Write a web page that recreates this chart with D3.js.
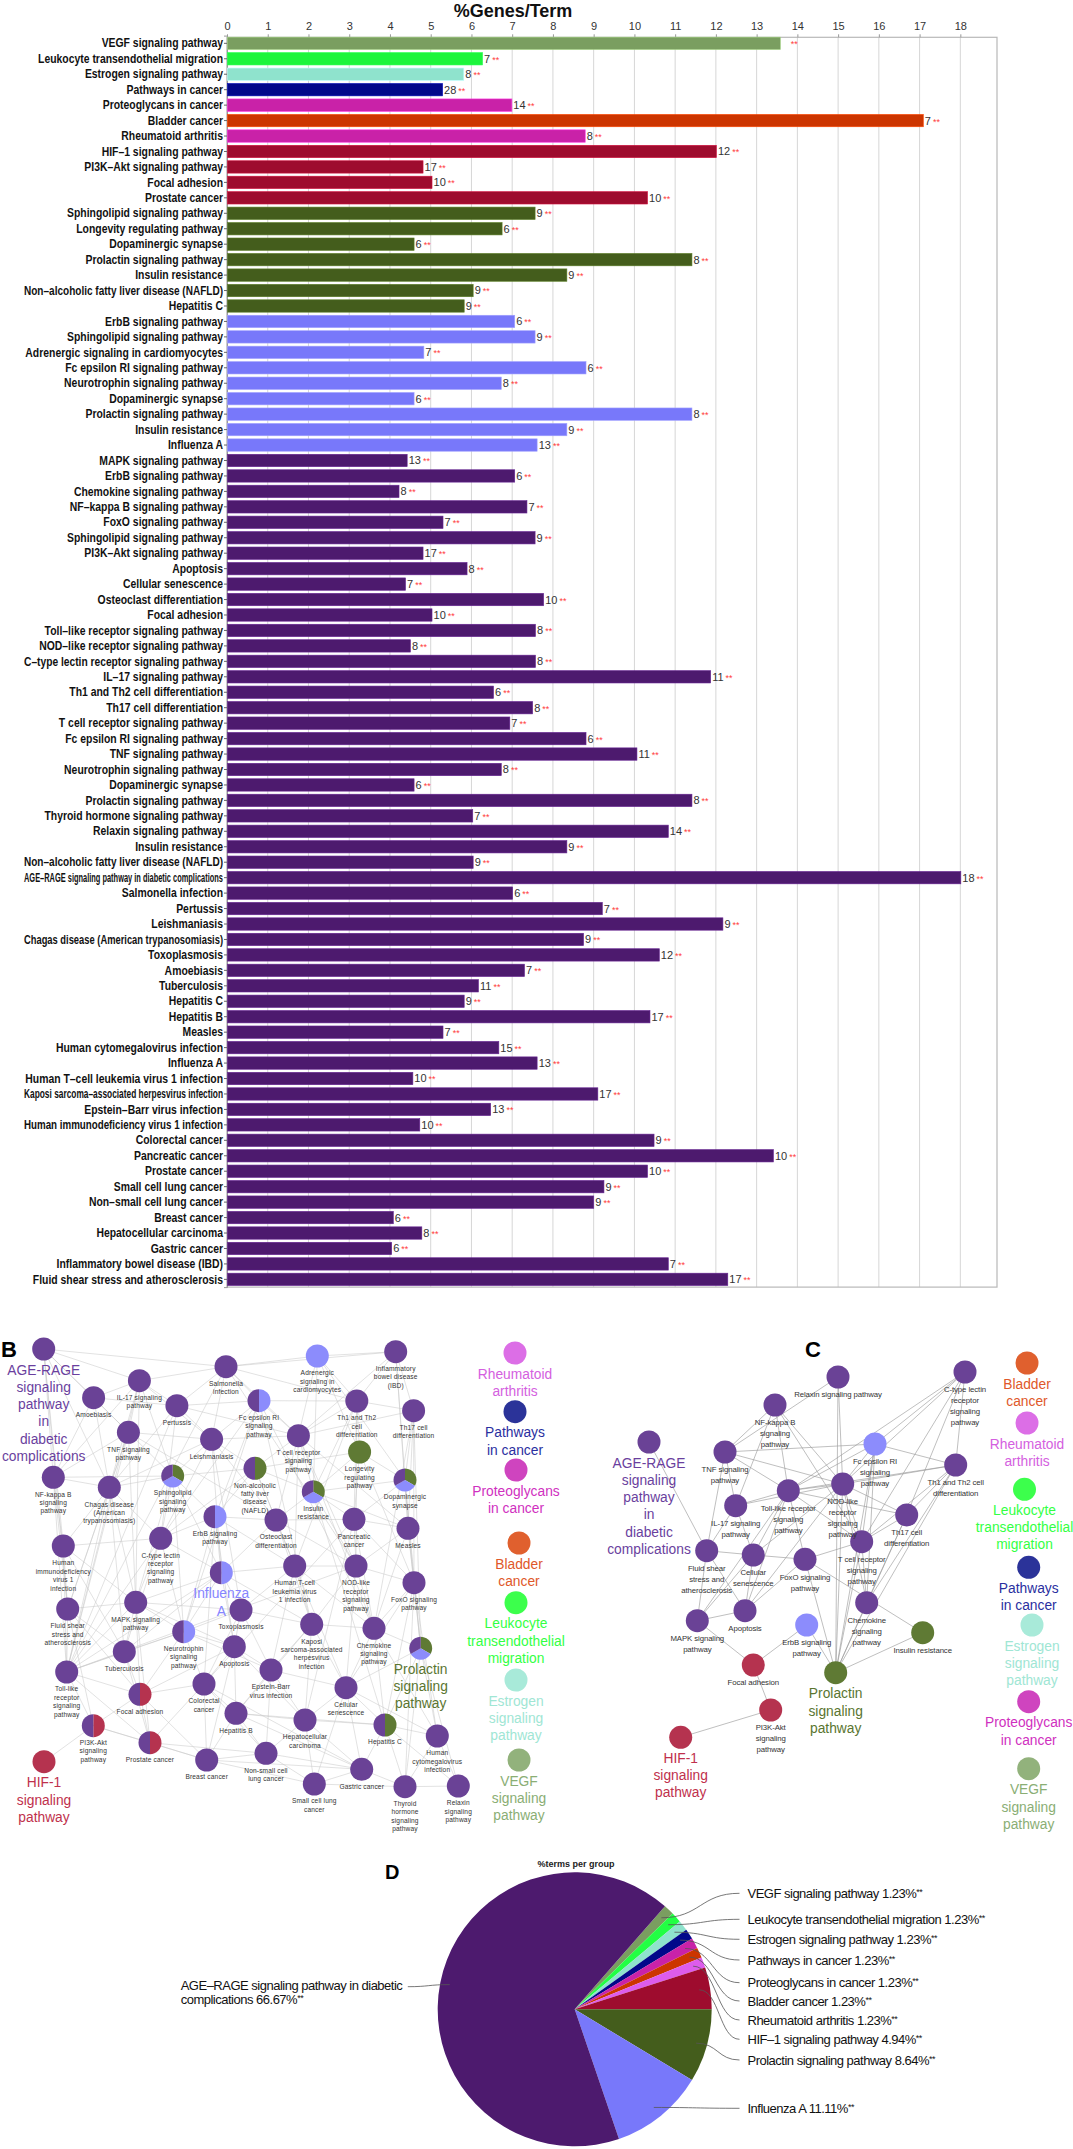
<!DOCTYPE html>
<html>
<head>
<meta charset="utf-8">
<script src="https://cdn.jsdelivr.net/npm/d3@7"></script>
<style>
  body { margin: 0; background: #fff; }
  svg { display: block; }
  text { font-family: "Liberation Sans", Arial, Helvetica, sans-serif; }
</style>
</head>
<body>
<div id="chart"></div>
<script>
// ---------- data: bar chart A ----------
const terms = [
  "VEGF signaling pathway","Leukocyte transendothelial migration","Estrogen signaling pathway","Pathways in cancer",
  "Proteoglycans in cancer","Bladder cancer","Rheumatoid arthritis","HIF-1 signaling pathway","PI3K-Akt signaling pathway",
  "Focal adhesion","Prostate cancer","Sphingolipid signaling pathway","Longevity regulating pathway","Dopaminergic synapse",
  "Prolactin signaling pathway","Insulin resistance","Non-alcoholic fatty liver disease (NAFLD)","Hepatitis C",
  "ErbB signaling pathway","Sphingolipid signaling pathway","Adrenergic signaling in cardiomyocytes","Fc epsilon RI signaling pathway",
  "Neurotrophin signaling pathway","Dopaminergic synapse","Prolactin signaling pathway","Insulin resistance","Influenza A",
  "MAPK signaling pathway","ErbB signaling pathway","Chemokine signaling pathway","NF-kappa B signaling pathway",
  "FoxO signaling pathway","Sphingolipid signaling pathway","PI3K-Akt signaling pathway","Apoptosis","Cellular senescence",
  "Osteoclast differentiation","Focal adhesion","Toll-like receptor signaling pathway","NOD-like receptor signaling pathway",
  "C-type lectin receptor signaling pathway","IL-17 signaling pathway","Th1 and Th2 cell differentiation",
  "Th17 cell differentiation","T cell receptor signaling pathway","Fc epsilon RI signaling pathway","TNF signaling pathway",
  "Neurotrophin signaling pathway","Dopaminergic synapse","Prolactin signaling pathway","Thyroid hormone signaling pathway",
  "Relaxin signaling pathway","Insulin resistance","Non-alcoholic fatty liver disease (NAFLD)",
  "AGE-RAGE signaling pathway in diabetic complications","Salmonella infection","Pertussis","Leishmaniasis",
  "Chagas disease (American trypanosomiasis)","Toxoplasmosis","Amoebiasis","Tuberculosis","Hepatitis C","Hepatitis B",
  "Measles","Human cytomegalovirus infection","Influenza A","Human T-cell leukemia virus 1 infection",
  "Kaposi sarcoma-associated herpesvirus infection","Epstein-Barr virus infection","Human immunodeficiency virus 1 infection",
  "Colorectal cancer","Pancreatic cancer","Prostate cancer","Small cell lung cancer","Non-small cell lung cancer",
  "Breast cancer","Hepatocellular carcinoma","Gastric cancer","Inflammatory bowel disease (IBD)",
  "Fluid shear stress and atherosclerosis"
];
const percents = [
  13.57, 6.26, 5.80, 5.28, 6.98, 17.08, 8.78, 12.00, 4.80, 5.02, 10.31,
  7.55, 6.74, 4.58, 11.40, 8.33, 6.03, 5.81,
  7.05, 7.55, 4.82, 8.80, 6.72, 4.58, 11.40, 8.33, 7.60,
  4.41, 7.05, 4.21, 7.35, 5.29, 7.55, 4.80, 5.88, 4.37, 7.76, 5.02, 7.56, 4.49, 7.56, 11.86, 6.53, 7.49, 6.93,
  8.80, 10.05, 6.72, 4.58, 11.40, 6.02, 10.82, 8.33, 6.03, 18.00, 7.00, 9.20, 12.16, 8.74, 10.60, 7.29, 6.16,
  5.81, 10.37, 5.29, 6.66, 7.60, 4.55, 9.09, 6.46, 4.72, 10.47, 13.40, 10.31, 9.24, 8.99, 4.07, 4.77, 4.03,
  10.82, 12.28
];
const geneCounts = [
  null, 7, 8, 28, 14, 7, 8, 12, 17, 10, 10,
  9, 6, 6, 8, 9, 9, 9,
  6, 9, 7, 6, 8, 6, 8, 9, 13,
  13, 6, 8, 7, 7, 9, 17, 8, 7, 10, 10, 8, 8, 8, 11, 6, 8, 7,
  6, 11, 8, 6, 8, 7, 14, 9, 9, 18, 6, 7, 9, 9, 12, 7, 11,
  9, 17, 7, 15, 13, 10, 17, 13, 10, 9, 10, 10, 9, 9, 6, 8, 6,
  7, 17
];
const groupKeys = ["vegf","leuk","estr","path","prot","blad","rheu","hif","prol","infl","age"];
const groupNames = [
  "VEGF signaling pathway","Leukocyte transendothelial migration","Estrogen signaling pathway","Pathways in cancer",
  "Proteoglycans in cancer","Bladder cancer","Rheumatoid arthritis","HIF-1 signaling pathway",
  "Prolactin signaling pathway","Influenza A","AGE-RAGE signaling pathway in diabetic complications"
];
const groupSizes = [1, 1, 1, 1, 1, 1, 1, 4, 7, 9, 54];
const xTicks = [0,1,2,3,4,5,6,7,8,9,10,11,12,13,14,15,16,17,18];

// ---------- data: pie D ----------
const pieShares = [1.23, 1.23, 1.23, 1.23, 1.23, 1.23, 1.23, 4.94, 8.64, 11.11, 66.67];

// ---------- data: network B  [key, term, label, layout x, layout y] ----------
const bNodes = [
  ["AGE","AGE-RAGE signaling pathway in diabetic complications","AGE-RAGE|signaling|pathway|in|diabetic|complications",43.7,9],
  ["IL17","IL-17 signaling pathway","IL-17 signaling|pathway",139.4,40.7],
  ["AMO","Amoebiasis","Amoebiasis",93.6,57.7],
  ["SAL","Salmonella infection","Salmonella|infection",226,26.7],
  ["PER","Pertussis","Pertussis",176.9,65.7],
  ["FCE","Fc epsilon RI signaling pathway","Fc epsilon RI|signaling|pathway",259,60.7],
  ["TNF","TNF signaling pathway","TNF signaling|pathway",128.4,92.3],
  ["LEI","Leishmaniasis","Leishmaniasis",211.6,99.3],
  ["ADR","Adrenergic signaling in cardiomyocytes","Adrenergic|signaling in|cardiomyocytes",317.3,16],
  ["IBD","Inflammatory bowel disease (IBD)","Inflammatory|bowel disease|(IBD)",395.7,11.7],
  ["TH12","Th1 and Th2 cell differentiation","Th1 and Th2|cell|differentiation",356.8,61],
  ["TH17","Th17 cell differentiation","Th17 cell|differentiation",413.6,70.7],
  ["TCR","T cell receptor signaling pathway","T cell receptor|signaling|pathway",298.4,95.7],
  ["LON","Longevity regulating pathway","Longevity|regulating|pathway",359.6,112],
  ["NAF","Non-alcoholic fatty liver disease (NAFLD)","Non-alcoholic|fatty liver|disease|(NAFLD)",255,128.3],
  ["SPH","Sphingolipid signaling pathway","Sphingolipid|signaling|pathway",172.7,136],
  ["NFK","NF-kappa B signaling pathway","NF-kappa B|signaling|pathway",53.3,137.3],
  ["CHA","Chagas disease (American trypanosomiasis)","Chagas disease|(American|trypanosomiasis)",109.3,147.3],
  ["INS","Insulin resistance","Insulin|resistance",313.3,151.7],
  ["DOP","Dopaminergic synapse","Dopaminergic|synapse",405,140],
  ["ERB","ErbB signaling pathway","ErbB signaling|pathway",215,176.7],
  ["OST","Osteoclast differentiation","Osteoclast|differentiation",276,180],
  ["PAN","Pancreatic cancer","Pancreatic|cancer",354,179.3],
  ["MEA","Measles","Measles",408,188.3],
  ["HIV","Human immunodeficiency virus 1 infection","Human|immunodeficiency|virus 1|infection",63.3,206],
  ["CTL","C-type lectin receptor signaling pathway","C-type lectin|receptor|signaling|pathway",160.7,198.3],
  ["FLU","Influenza A","Influenza|A",221.3,232.7],
  ["HTL","Human T-cell leukemia virus 1 infection","Human T-cell|leukemia virus|1 infection",294.7,226],
  ["NOD","NOD-like receptor signaling pathway","NOD-like|receptor|signaling|pathway",356,226],
  ["FOX","FoxO signaling pathway","FoxO signaling|pathway",414,242.7],
  ["FSS","Fluid shear stress and atherosclerosis","Fluid shear|stress and|atherosclerosis",67.7,269],
  ["MAP","MAPK signaling pathway","MAPK signaling|pathway",135.7,262.3],
  ["TOX","Toxoplasmosis","Toxoplasmosis",241,270],
  ["NEU","Neurotrophin signaling pathway","Neurotrophin|signaling|pathway",183.7,291.7],
  ["KAP","Kaposi sarcoma-associated herpesvirus infection","Kaposi|sarcoma-associated|herpesvirus|infection",311.7,284.3],
  ["CHE","Chemokine signaling pathway","Chemokine|signaling|pathway",374,288.3],
  ["PRL","Prolactin signaling pathway","Prolactin|signaling|pathway",420.7,308.3],
  ["TUB","Tuberculosis","Tuberculosis",124.3,311.7],
  ["APO","Apoptosis","Apoptosis",234.3,306.7],
  ["TLR","Toll-like receptor signaling pathway","Toll-like|receptor|signaling|pathway",66.7,332],
  ["FOC","Focal adhesion","Focal adhesion",140,354.3],
  ["COL","Colorectal cancer","Colorectal|cancer",204,344],
  ["EBV","Epstein-Barr virus infection","Epstein-Barr|virus infection",271,330],
  ["SEN","Cellular senescence","Cellular|senescence",346,347.7],
  ["HEB","Hepatitis B","Hepatitis B",236,373.3],
  ["HCC","Hepatocellular carcinoma","Hepatocellular|carcinoma",305,380],
  ["HEC","Hepatitis C","Hepatitis C",385,385],
  ["PI3","PI3K-Akt signaling pathway","PI3K-Akt|signaling|pathway",93.3,385.7],
  ["PRO","Prostate cancer","Prostate cancer",150,402.7],
  ["HIF","HIF-1 signaling pathway","HIF-1|signaling|pathway",44,421.7],
  ["BRE","Breast cancer","Breast cancer",206.7,420],
  ["NSC","Non-small cell lung cancer","Non-small cell|lung cancer",266,413.3],
  ["GAS","Gastric cancer","Gastric cancer",361.7,429.3],
  ["SCL","Small cell lung cancer","Small cell lung|cancer",314.3,444],
  ["THY","Thyroid hormone signaling pathway","Thyroid|hormone|signaling|pathway",405,446.7],
  ["CMV","Human cytomegalovirus infection","Human|cytomegalovirus|infection",437.3,396],
  ["REL","Relaxin signaling pathway","Relaxin|signaling|pathway",458.3,446],
  ["RHE","Rheumatoid arthritis","Rheumatoid|arthritis",515,13],
  ["PIC","Pathways in cancer","Pathways|in cancer",515,71.7],
  ["PTG","Proteoglycans in cancer","Proteoglycans|in cancer",516,130],
  ["BLA","Bladder cancer","Bladder|cancer",519,203],
  ["LEU","Leukocyte transendothelial migration","Leukocyte|transendothelial|migration",516,262.7],
  ["EST","Estrogen signaling pathway","Estrogen|signaling|pathway",516,340],
  ["VEG","VEGF signaling pathway","VEGF|signaling|pathway",519,420]
];
const bEdges = (
  "AGE:IL17 AGE:AMO AGE:TNF AGE:NFK AGE:CHA AGE:HIV AGE:FSS AGE:SAL " +
  "IL17:AMO IL17:TNF IL17:PER IL17:SAL IL17:LEI IL17:CHA IL17:TLR IL17:NFK IL17:MAP IL17:SPH " +
  "AMO:TNF AMO:NFK AMO:CHA AMO:PER " +
  "SAL:PER SAL:FCE SAL:LEI SAL:ADR SAL:TH12 SAL:TCR SAL:TLR SAL:NOD SAL:IBD " +
  "PER:LEI PER:FCE PER:TCR PER:TLR PER:CTL PER:CHA " +
  "FCE:TCR FCE:TH12 FCE:LEI FCE:NEU FCE:CTL FCE:ERB FCE:CHE FCE:KAP " +
  "TNF:LEI TNF:NFK TNF:CHA TNF:SPH TNF:TLR TNF:FSS TNF:MAP TNF:OST " +
  "LEI:SPH LEI:TCR LEI:CTL LEI:NAF LEI:OST LEI:FLU LEI:TOX LEI:CHA " +
  "ADR:TH12 ADR:IBD ADR:TCR ADR:INS ADR:DOP ADR:LON " +
  "IBD:TH12 IBD:TH17 IBD:TCR IBD:DOP IBD:MEA " +
  "TH12:TH17 TH12:TCR TH12:LON TH12:NOD TH12:PAN TH12:INS TH12:HTL " +
  "TH17:TCR TH17:DOP TH17:MEA TH17:FOX TH17:CHE TH17:PRL " +
  "TCR:NAF TCR:INS TCR:OST TCR:HTL TCR:NOD TCR:CHE TCR:MEA " +
  "LON:INS LON:DOP LON:PAN LON:NAF LON:FOX " +
  "NAF:INS NAF:OST NAF:ERB NAF:SPH NAF:HTL NAF:CTL " +
  "SPH:CHA SPH:ERB SPH:CTL SPH:FLU SPH:NFK SPH:MAP SPH:NEU " +
  "NFK:CHA NFK:HIV NFK:TLR NFK:FSS " +
  "CHA:HIV CHA:CTL CHA:MAP CHA:TUB CHA:TLR CHA:FSS " +
  "INS:OST INS:PAN INS:NOD INS:DOP INS:MEA INS:HEC " +
  "DOP:PAN DOP:MEA DOP:PRL DOP:FOX " +
  "ERB:OST ERB:FLU ERB:CTL ERB:HTL ERB:NEU ERB:COL ERB:APO " +
  "OST:HTL OST:NOD OST:PAN OST:FLU OST:KAP " +
  "PAN:NOD PAN:MEA PAN:FOX PAN:HCC PAN:COL PAN:CHE " +
  "MEA:FOX MEA:PRL MEA:CHE " +
  "HIV:FSS HIV:TLR HIV:MAP HIV:TUB HIV:CTL " +
  "CTL:FLU CTL:MAP CTL:NEU CTL:TLR CTL:TUB " +
  "FLU:HTL FLU:TOX FLU:NEU FLU:APO FLU:KAP FLU:TLR FLU:MAP FLU:TUB " +
  "HTL:NOD HTL:KAP HTL:EBV HTL:TOX HTL:CHE HTL:SEN " +
  "NOD:FOX NOD:CHE NOD:KAP NOD:SEN NOD:MEA NOD:TLR " +
  "FOX:PRL FOX:CHE FOX:SEN FOX:HEC FOX:THY FOX:CMV " +
  "FSS:MAP FSS:TLR FSS:TUB FSS:FOC FSS:PI3 " +
  "MAP:NEU MAP:TUB MAP:TLR MAP:TOX MAP:FOC MAP:APO MAP:PRO " +
  "TOX:NEU TOX:APO TOX:KAP TOX:EBV TOX:COL " +
  "NEU:APO NEU:TUB NEU:TLR NEU:COL NEU:FOC NEU:EBV " +
  "KAP:CHE KAP:EBV KAP:SEN KAP:HCC KAP:HEB " +
  "CHE:PRL CHE:SEN CHE:HEC CHE:CMV " +
  "PRL:HEC PRL:CMV PRL:THY PRL:REL PRL:SEN " +
  "TUB:TLR TUB:FOC TUB:PRO " +
  "APO:COL APO:EBV APO:HEB APO:BRE APO:HCC APO:FOC " +
  "TLR:FOC TLR:PI3 TLR:PRO " +
  "FOC:PI3 FOC:PRO FOC:COL FOC:BRE " +
  "COL:HEB COL:BRE COL:PRO COL:NSC COL:GAS " +
  "EBV:HEB EBV:HCC EBV:SEN EBV:NSC " +
  "SEN:HCC SEN:HEC SEN:GAS SEN:SCL SEN:CMV " +
  "HEB:HCC HEB:BRE HEB:NSC HEB:GAS HEB:HEC " +
  "HCC:NSC HCC:SCL HCC:GAS HCC:HEC " +
  "HEC:GAS HEC:CMV HEC:THY HEC:REL " +
  "PI3:PRO PI3:HIF PI3:BRE PRO:BRE PRO:NSC BRE:NSC BRE:SCL BRE:GAS " +
  "NSC:SCL NSC:GAS GAS:SCL GAS:THY SCL:THY THY:REL THY:CMV CMV:REL"
).split(" ");

// ---------- data: network C ----------
const cNodes = [
  ["AGE","AGE-RAGE signaling pathway in diabetic complications","AGE-RAGE|signaling|pathway|in|diabetic|complications",89,122],
  ["TNF","TNF signaling pathway","TNF signaling|pathway",165,132],
  ["IL17","IL-17 signaling pathway","IL-17 signaling|pathway",175.7,185.7],
  ["TLR","Toll-like receptor signaling pathway","Toll-like receptor|signaling|pathway",228.3,170.7],
  ["NOD","NOD-like receptor signaling pathway","NOD-like|receptor|signaling|pathway",282.7,164],
  ["FCE","Fc epsilon RI signaling pathway","Fc epsilon RI|signaling|pathway",315,124],
  ["TH12","Th1 and Th2 cell differentiation","Th1 and Th2 cell|differentiation",395.7,145],
  ["TH17","Th17 cell differentiation","Th17 cell|differentiation",346.7,195],
  ["TCR","T cell receptor signaling pathway","T cell receptor|signaling|pathway",301.7,221.7],
  ["FSS","Fluid shear stress and atherosclerosis","Fluid shear|stress and|atherosclerosis",146.7,230.7],
  ["SEN","Cellular senescence","Cellular|senescence",193.3,235],
  ["FOX","FoxO signaling pathway","FoxO signaling|pathway",245,239.3],
  ["MAP","MAPK signaling pathway","MAPK signaling|pathway",137.3,300.7],
  ["APO","Apoptosis","Apoptosis",185,290.7],
  ["ERB","ErbB signaling pathway","ErbB signaling|pathway",246.7,305],
  ["CHE","Chemokine signaling pathway","Chemokine|signaling|pathway",306.7,282.7],
  ["INS","Insulin resistance","Insulin resistance",362.7,312.7],
  ["FOC","Focal adhesion","Focal adhesion",193.3,345],
  ["PRL","Prolactin signaling pathway","Prolactin|signaling|pathway",275.7,352.7],
  ["PI3","PI3K-Akt signaling pathway","PI3K-Akt|signaling|pathway",210.7,390],
  ["HIF","HIF-1 signaling pathway","HIF-1|signaling|pathway",120.7,417.3],
  ["NFK","NF-kappa B signaling pathway","NF-kappa B|signaling|pathway",215,85],
  ["REL","Relaxin signaling pathway","Relaxin signaling pathway",278,57],
  ["CTL","C-type lectin receptor signaling pathway","C-type lectin|receptor|signaling|pathway",405,52],
  ["BLA","Bladder cancer","Bladder|cancer",467,43],
  ["RHE","Rheumatoid arthritis","Rheumatoid|arthritis",467,103],
  ["LEU","Leukocyte transendothelial migration","Leukocyte|transendothelial|migration",464.5,169.3],
  ["PIC","Pathways in cancer","Pathways|in cancer",468.7,247.3],
  ["EST","Estrogen signaling pathway","Estrogen|signaling|pathway",472,305],
  ["PTG","Proteoglycans in cancer","Proteoglycans|in cancer",468.7,381.7],
  ["VEG","VEGF signaling pathway","VEGF|signaling|pathway",468.7,448.7]
];
const cEdges = (
  "AGE:FSS TNF:FSS TNF:IL17 TNF:TLR TNF:NOD TNF:FCE TNF:NFK TNF:REL " +
  "IL17:TLR IL17:NOD IL17:SEN IL17:FSS IL17:NFK " +
  "TLR:NOD TLR:FCE TLR:TH12 TLR:TH17 TLR:TCR TLR:SEN TLR:APO TLR:MAP TLR:FOX TLR:NFK TLR:CTL " +
  "NOD:FCE NOD:TH12 NOD:TH17 NOD:TCR NOD:APO NOD:CHE NOD:SEN NOD:PRL NOD:CTL NOD:REL " +
  "FCE:TH12 FCE:TCR FCE:CHE FCE:PRL FCE:CTL TH12:TH17 TH12:TCR TH12:CHE TH12:PRL TH12:CTL " +
  "TH17:TCR TH17:CHE TH17:PRL TH17:CTL TCR:CHE TCR:PRL TCR:FOX TCR:CTL TCR:NFK " +
  "FSS:SEN FSS:MAP FSS:APO SEN:APO SEN:MAP SEN:FOX FOX:APO FOX:PRL FOX:INS MAP:APO MAP:FOC " +
  "ERB:FOC ERB:PRL CHE:PRL INS:PRL FOC:PI3 PI3:HIF REL:PRL NFK:NOD"
).split(" ");

// ---------- styles ----------
const barColor = {vegf:"#7a9e60", leuk:"#1cf53c", estr:"#8fe3cd", path:"#02088a", prot:"#c922a8", blad:"#cc3500",
  rheu:"#c922a8", hif:"#9e0c2e", prol:"#445d1c", infl:"#7878fa", age:"#4d1a6e"};
const pieColor = Object.assign({}, barColor, {leuk:"#22ff44", rheu:"#dd5cec"});
const netColor = {vegf:"#92b27c", leuk:"#3cff4c", estr:"#a8ead9", path:"#2b3399", prot:"#cf44bf", blad:"#e0602e",
  rheu:"#dc6ee6", hif:"#b5334f", prol:"#5f7a34", infl:"#8c8cfc", age:"#6a4296"};
const netText = {vegf:"#8aae74", leuk:"#33ff44", estr:"#a0e6d4", path:"#2a2fa0", prot:"#d030c0", blad:"#e0582a",
  rheu:"#d460e0", hif:"#c0304c", prol:"#5a7530", infl:"#8585ff", age:"#6a3f9e"};

const dash = s => s.replace(/-/g, "\u2013");

// group of each bar, built from the group sizes
const barGroup = [];
groupSizes.forEach((n, gi) => { for (let k = 0; k < n; k++) barGroup.push(groupKeys[gi]); });

const W = 1073, H = 2149;
const svg = d3.select("#chart").append("svg").attr("width", W).attr("height", H);
svg.append("rect").attr("width", W).attr("height", H).attr("fill", "#fff");

// ================= A: bar chart =================
const bx = d3.scaleLinear().domain([0, 18.9]).range([227, 997]);
const by = d3.scaleBand().domain(d3.range(terms.length)).range([35.6, 1287.1]).paddingInner(0.2).paddingOuter(0.1);
const plotTop = 37.3, plotBottom = 1287.1;

svg.append("g").selectAll("line").data(xTicks).join("line")
  .attr("x1", d => bx(d)).attr("x2", d => bx(d)).attr("y1", plotTop).attr("y2", plotBottom)
  .attr("stroke", "#d6d6d6").attr("stroke-width", 1);

svg.append("rect").attr("x", bx(0)).attr("y", plotTop).attr("width", bx(18.9) - bx(0)).attr("height", plotBottom - plotTop)
  .attr("fill", "none").attr("stroke", "#b8b8b8").attr("stroke-width", 1.2);

const xAxis = svg.append("g").attr("transform", `translate(0,${plotTop})`)
  .call(d3.axisTop(bx).tickValues(xTicks).tickSize(3).tickPadding(4).tickFormat(d3.format("d")));
xAxis.select(".domain").remove();
xAxis.selectAll(".tick line").attr("stroke", "#999");
xAxis.selectAll(".tick text").attr("font-size", 11).attr("fill", "#333").attr("font-family", "Liberation Sans, Arial");

svg.append("text").attr("x", 513).attr("y", 17).attr("text-anchor", "middle")
  .attr("font-size", 18).attr("font-weight", "bold").attr("fill", "#111").text("%Genes/Term");

const yAxis = svg.append("g").attr("transform", `translate(${bx(0)},0)`)
  .call(d3.axisLeft(by).tickSize(3).tickPadding(1).tickFormat(i => dash(terms[i])));
yAxis.select(".domain").attr("stroke", "#999");
yAxis.selectAll(".tick line").attr("stroke", "#666");
yAxis.selectAll(".tick text").attr("font-size", 13).attr("font-weight", "bold").attr("fill", "#111")
  .attr("font-family", "Liberation Sans, Arial")
  .each(function () {
    const w = this.getComputedTextLength();
    d3.select(this).attr("textLength", Math.min(w * 0.8, 199)).attr("lengthAdjust", "spacingAndGlyphs");
  });

svg.append("g").selectAll("rect").data(percents).join("rect")
  .attr("x", bx(0) + 0.5).attr("y", (d, i) => by(i)).attr("width", d => bx(d) - bx(0))
  .attr("height", by.bandwidth())
  .attr("fill", (d, i) => barColor[barGroup[i]])
  .attr("stroke", (d, i) => d3.color(barColor[barGroup[i]]).brighter(0.8)).attr("stroke-width", 0.6);

const vl = svg.append("g").selectAll("text").data(percents).join("text")
  .attr("x", d => bx(d) + 2).attr("y", (d, i) => by(i) + by.bandwidth() / 2).attr("dy", "0.36em")
  .attr("font-size", 11).attr("fill", "#333");
vl.append("tspan").text((d, i) => geneCounts[i] == null ? "" : geneCounts[i]);
vl.append("tspan").attr("dx", (d, i) => geneCounts[i] == null ? 9 : 2).attr("font-size", 9)
  .attr("fill", "#ff3c3c").text("**");

// ================= networks =================
function membership(term) {
  const gs = [];
  terms.forEach((t, i) => { if (t === term && !gs.includes(barGroup[i])) gs.push(barGroup[i]); });
  return gs.sort((a, b) => groupKeys.indexOf(a) - groupKeys.indexOf(b));
}

function drawNetwork(nodes, edges, sx, sy, o) {
  const g = svg.append("g");
  const byKey = {};
  nodes.forEach(n => { byKey[n[0]] = n; });
  g.append("g").selectAll("line").data(edges.map(e => e.split(":"))).join("line")
    .attr("x1", d => sx(byKey[d[0]][3])).attr("y1", d => sy(byKey[d[0]][4]))
    .attr("x2", d => sx(byKey[d[1]][3])).attr("y2", d => sy(byKey[d[1]][4]))
    .attr("stroke", o.edge).attr("stroke-width", o.edgeW).attr("stroke-opacity", o.edgeOp);

  const r = 11.5;
  const nodePie = d3.pie().sort(null).value(1);
  const nodeArc = d3.arc().innerRadius(0).outerRadius(r);
  const ng = g.append("g").selectAll("g").data(nodes).join("g")
    .attr("transform", d => `translate(${sx(d[3])},${sy(d[4])})`);
  ng.each(function (d) {
    let gs = membership(d[1]);
    if (o.single) gs = [gs[0]];
    d3.select(this).selectAll("path").data(nodePie(gs)).join("path")
      .attr("d", nodeArc).attr("fill", p => netColor[p.data]);
  });

  const lg = g.append("g");
  nodes.forEach(d => {
    const isGroup = groupNames.includes(d[1]);
    const lines = d[2].split("|");
    const x = sx(d[3]), y = sy(d[4]);
    const t = lg.append("text").attr("text-anchor", "middle");
    if (isGroup) {
      const gk = groupKeys[groupNames.indexOf(d[1])];
      t.attr("font-size", 13.8).attr("fill", netText[gk]);
      lines.forEach((ln, k) => t.append("tspan").attr("x", x).attr("y", y + 20.5 + 5 + k * 17.3).text(ln));
    } else {
      t.attr("font-size", o.font).attr("fill", "#333").attr("letter-spacing", o.ls);
      lines.forEach((ln, k) => t.append("tspan").attr("x", x).attr("y", y + o.off + o.font * 0.36 + k * o.lh).text(ln));
    }
  });
}

// B
const bxs = d3.scaleLinear().domain([0, 540]).range([0, 540]);
const bys = d3.scaleLinear().domain([0, 490]).range([1340, 1830]);
drawNetwork(bNodes, bEdges, bxs, bys, {edge:"#c8c8c8", edgeW:0.7, edgeOp:0.75, font:6.6, ls:0.15, off:17, lh:8.4, single:false});
svg.append("text").attr("x", 1).attr("y", 1357).attr("font-size", 22).attr("font-weight", "bold").text("B");

// C
const cxs = d3.scaleLinear().domain([0, 513]).range([560, 1073]);
const cys = d3.scaleLinear().domain([0, 500]).range([1320, 1820]);
drawNetwork(cNodes, cEdges, cxs, cys, {edge:"#9a9a9a", edgeW:0.8, edgeOp:0.8, font:7.8, ls:-0.1, off:17.6, lh:11, single:true});
svg.append("text").attr("x", 805).attr("y", 1357).attr("font-size", 22).attr("font-weight", "bold").text("C");

// ================= D: pie =================
const pcx = 574.7, pcy = 2009.3, pr = 137;
const startA = Math.PI / 2 - 2 * Math.PI * d3.sum(pieShares.slice(0, 8)) / 100;
const pie = d3.pie().sort(null).value(d => d).startAngle(startA).endAngle(startA + 2 * Math.PI);
const arcs = pie(pieShares);
const arc = d3.arc().innerRadius(0).outerRadius(pr);
const pg = svg.append("g").attr("transform", `translate(${pcx},${pcy})`);
pg.selectAll("path").data(arcs).join("path").attr("d", arc).attr("fill", (d, i) => pieColor[groupKeys[i]]);

svg.append("text").attr("x", 576).attr("y", 1867).attr("text-anchor", "middle").attr("font-size", 9)
  .attr("font-weight", "bold").attr("fill", "#222").text("%terms per group");
svg.append("text").attr("x", 385).attr("y", 1879).attr("font-size", 20).attr("font-weight", "bold").text("D");

const labelX = 747.5;
const labelY = [1893.3, 1919.3, 1939.3, 1960, 1982.7, 2001, 2020, 2039.3, 2060, 2108.3];
const link = d3.linkHorizontal();
const edgePt = (a, k) => {
  const m = (a.startAngle + a.endAngle) / 2;
  return [pcx + Math.sin(m) * pr * k, pcy - Math.cos(m) * pr * k];
};
arcs.forEach((a, i) => {
  if (i < 10) {
    svg.append("path").attr("d", link({source: edgePt(a, 0.92), target: [labelX - 8, labelY[i]]}))
      .attr("fill", "none").attr("stroke", "#555").attr("stroke-width", 0.8);
    const t = svg.append("text").attr("x", labelX).attr("y", labelY[i] + 4.6).attr("font-size", 13)
      .attr("letter-spacing", -0.5).attr("fill", "#111");
    t.append("tspan").text(dash(groupNames[i]) + " " + pieShares[i].toFixed(2) + "%");
    t.append("tspan").attr("font-size", 9).attr("dy", -3).text("**");
  } else {
    svg.append("path").attr("d", link({source: [407.8, 1986.7], target: edgePt(a, 0.93)}))
      .attr("fill", "none").attr("stroke", "#555").attr("stroke-width", 0.8);
    const t = svg.append("text").attr("font-size", 13).attr("letter-spacing", -0.5).attr("fill", "#111");
    t.append("tspan").attr("x", 180.7).attr("y", 1989.6).text(dash("AGE-RAGE signaling pathway in diabetic"));
    t.append("tspan").attr("x", 180.7).attr("y", 2003.9).text("complications " + pieShares[i].toFixed(2) + "%");
    t.append("tspan").attr("font-size", 9).attr("dy", -3).text("**");
  }
});
</script>
</body>
</html>
